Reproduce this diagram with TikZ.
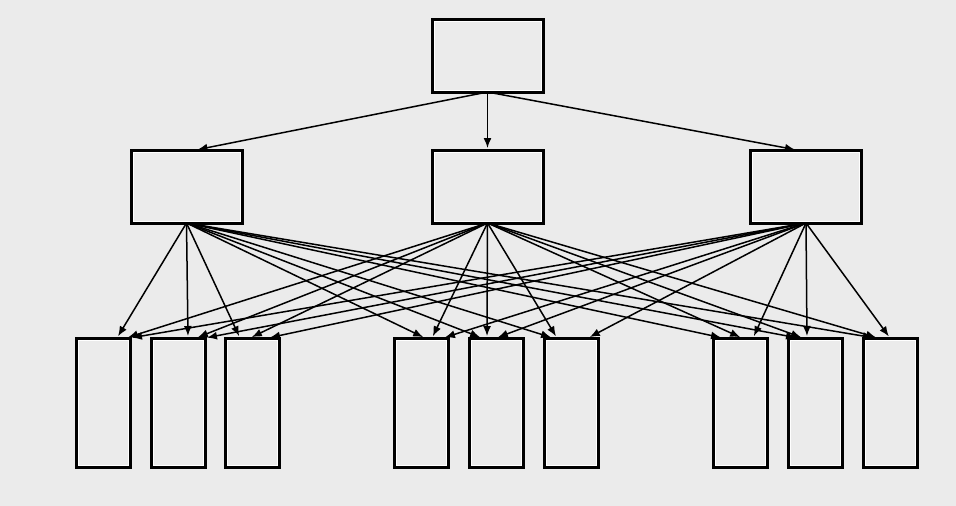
\documentclass[tikz,border=0pt]{standalone}
\usetikzlibrary{arrows.meta}
\definecolor{bg}{HTML}{EBEBEB}
\begin{document}
\begin{tikzpicture}[x=1pt,y=-1pt,
  box/.style={draw=black,line width=3pt,fill=bg,inner sep=0pt,outer sep=0pt,
    path picture={\draw[white,line width=1pt]
      ([shift={(2pt,-2pt)}]path picture bounding box.north west) rectangle
      ([shift={(-2pt,2pt)}]path picture bounding box.south east);}},
  wide/.style={box,minimum width=111pt,minimum height=73pt},
  tall/.style={box,minimum width=54pt,minimum height=129pt},
  conn/.style={draw=black,line width=1.5pt,-{Latex[length=10pt,width=8pt]},shorten >=2pt}]
\fill[bg] (0,0) rectangle (956,506);
\useasboundingbox (0,0) rectangle (956,506);
\node[wide] (t) at (487.5,55.5) {};
\node[wide] (m1) at (186.5,186.5) {};
\node[wide] (m2) at (487.5,186.5) {};
\node[wide] (m3) at (806,186.5) {};
\foreach \n/\x in {1/103,2/178,3/252,4/421,5/496,6/571,7/740,8/815,9/890}
  \node[tall] (b\n) at (\x,402.5) {};
% top to middle
\draw[conn] (t.south) -- ([xshift=9pt]m1.north);
\draw[conn] (t.south) -- (m2.north);
\draw[conn] (t.south) -- ([xshift=-9pt]m3.north);
% middle to bottom
\foreach \n/\a/\b/\c in {1/14/23/27,2/10/18/27,3/-12/-2/16,4/4/11/22,5/-14/-9/0,6/-18/-14/17,7/-17/2/13,8/-17/-12/-8,9/-15/-12/0}{
  \draw[conn] (m1.south) -- ([xshift=\a pt]b\n.north);
  \draw[conn] (m2.south) -- ([xshift=\b pt]b\n.north);
  \draw[conn] (m3.south) -- ([xshift=\c pt]b\n.north);
}
\end{tikzpicture}
\end{document}
